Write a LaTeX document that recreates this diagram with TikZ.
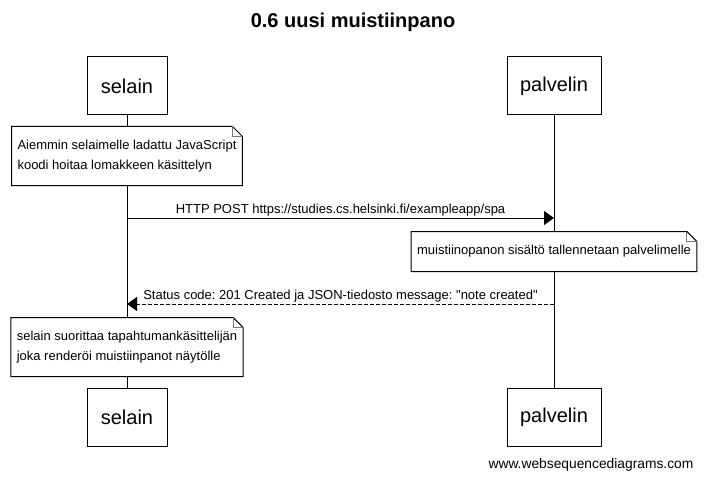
\documentclass[tikz,border=0pt]{standalone}
\usepackage{fontspec}
\setmainfont{Liberation Sans}[Ligatures=TeXOff]
\usetikzlibrary{arrows.meta}
\definecolor{foldColor}{RGB}{120,120,120}
\frenchspacing

\begin{document}
\begin{tikzpicture}[x=1pt,y=-1pt,line width=1pt,
  actor/.style={draw,fill=white,minimum height=58pt,font=\fontsize{20}{24}\selectfont},
  notebox/.style={fill=white,align=left,inner xsep=5.5pt,font=\fontsize{13}{20}\selectfont},
  msg/.style={-{Triangle[length=10pt,width=14pt]}},
  msgtext/.style={above,inner sep=1pt,font=\fontsize{13}{16}\selectfont}]
  \useasboundingbox (0,0) rectangle (706,481);
  \node[font=\fontsize{20}{24}\selectfont\bfseries] (title) at (353,22) {0.6 uusi muistiinpano};
  % Actors
  \node[actor,minimum width=80pt] (selainTop) at (127,86) {selain};
  \node[actor,minimum width=94pt] (palvelinTop) at (554,86) {palvelin};
  \node[actor,minimum width=80pt] (selainBot) at (127,417.5) {selain};
  \node[actor,minimum width=94pt] (palvelinBot) at (554,417.5) {palvelin};
  % Lifelines
  \draw (selainTop) -- (selainBot);
  \draw (palvelinTop) -- (palvelinBot);
  % Notes
  \node[notebox,minimum height=58pt] (note1) at (127,156) {Aiemmin selaimelle ladattu JavaScript\\koodi hoitaa lomakkeen käsittelyn};
  \node[notebox,minimum height=39pt] (note2) at (554,251.5) {muistiinopanon sisältö tallennetaan palvelimelle};
  \node[notebox,minimum height=58pt] (note3) at (127,347) {selain suorittaa tapahtumankäsittelijän\\joka renderöi muistiinpanot näytölle};
  \foreach \n in {note1,note2,note3} {
    \draw (\n.north west) -- ([xshift=-10pt]\n.north east) -- ([yshift=-10pt]\n.north east) -- (\n.south east) -- (\n.south west) -- cycle;
    \draw[foldColor] ([xshift=-10pt]\n.north east) |- ([yshift=-10pt]\n.north east);
  }
  % Messages
  \coordinate (postFrom) at (127,218);
  \coordinate (postTo) at (554,218);
  \draw[msg] (postFrom) -- node[msgtext]{HTTP POST https://studies.cs.helsinki.fi/exampleapp/spa} (postTo);
  \coordinate (replyFrom) at (554,304);
  \coordinate (replyTo) at (127,304);
  \draw[msg,dash pattern=on 4pt off 2pt] (replyFrom) -- node[msgtext]{Status code: 201 Created ja JSON-tiedosto message: "note created"} (replyTo);
  \node[font=\fontsize{13.8}{16}\selectfont] (credit) at (591,465) {www.websequencediagrams.com};
\end{tikzpicture}
\end{document}
